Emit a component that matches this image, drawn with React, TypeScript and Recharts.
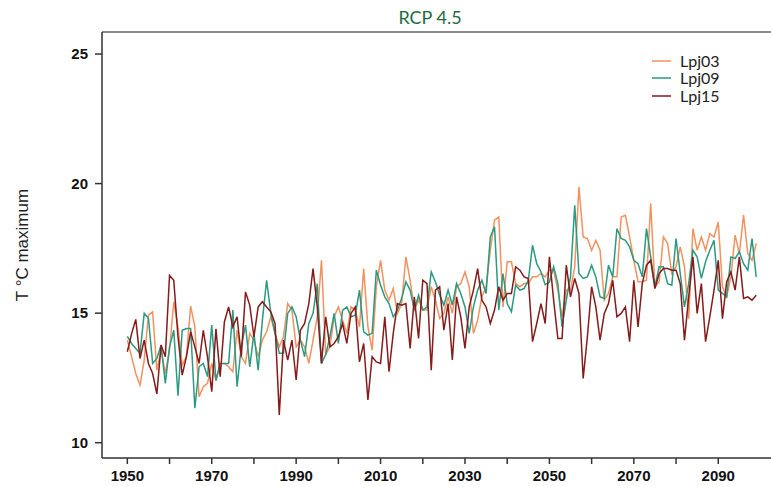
import React from 'react';
import { LineChart, Line, XAxis, YAxis, ReferenceLine, Legend } from 'recharts';

// Annual maximum temperature, 1950-2099
const years: number[] = Array.from({ length: 150 }, (_, i) => 1950 + i);

const lpj03: number[] = [
  13.96, 13.32, 12.67, 12.22, 13.19, 14.92, 15.05, 12.8, 13.57, 12.67,
  13.57, 15.44, 14.47, 12.99, 13.32, 15.27, 14.47, 11.78, 12.16, 12.29,
  13.06, 12.4, 13.06, 13.06, 12.93, 12.74, 14.34, 13.32, 13.06, 14.22,
  13.96, 13.32, 13.96, 14.28, 14.86, 14.22, 13.7, 14.09, 15.37, 15.12,
  13.7, 13.96, 13.7, 13.06, 13.96, 14.86, 17.04, 13.4, 13.7, 14.86,
  15.24, 14.73, 14.22, 15.24, 15.12, 14.47, 16.72, 14.47, 13.57, 16.02,
  17.04, 15.89, 15.5, 15.95, 14.99, 15.37, 17.17, 16.27, 15.12, 15.5,
  15.12, 15.12, 16.02, 15.5, 14.8, 14.99, 15.63, 14.99, 16.02, 16.14,
  16.59, 16.02, 14.22, 14.73, 15.63, 16.02, 17.43, 18.59, 18.71, 15.24,
  16.98, 16.98, 16.14, 16.02, 16.14, 16.14, 16.4, 16.4, 16.53, 16.4,
  16.66, 16.66, 15.89, 14.86, 15.89, 15.89, 16.79, 19.87, 17.94, 17.88,
  17.43, 17.81, 17.43, 15.5, 15.76, 16.4, 16.4, 18.71, 18.78, 17.94,
  17.04, 16.21, 16.21, 16.27, 19.23, 16.02, 16.21, 17.94, 17.69, 16.53,
  16.79, 17.56, 16.79, 14.79, 18.26, 17.43, 17.94, 17.43, 18.07, 17.94,
  18.52, 16.02, 15.63, 16.4, 18.01, 17.3, 18.78, 17.3, 17.04, 17.69,
];

const lpj09: number[] = [
  14.1, 13.83, 13.64, 13.45, 14.99, 14.8, 13.06, 13.25, 13.77, 12.29,
  13.7, 14.34, 11.81, 14.34, 14.41, 14.41, 11.33, 12.93, 13.06, 12.55,
  14.54, 12.4, 13.06, 13.06, 13.06, 15.12, 12.16, 13.7, 14.54, 12.93,
  14.22, 12.8, 14.73, 16.27, 14.99, 14.22, 13.45, 13.45, 14.99, 15.24,
  14.86, 13.96, 13.32, 14.6, 14.99, 16.14, 13.06, 13.4, 14.09, 14.99,
  13.83, 15.12, 15.24, 14.86, 14.92, 15.89, 14.28, 14.15, 14.22, 16.66,
  16.08, 15.63, 15.37, 14.86, 15.12, 15.57, 16.21, 15.89, 15.12, 15.69,
  15.12, 15.24, 16.59, 16.2, 15.7, 15.31, 15.89, 15.31, 16.14, 15.76,
  15.24, 14.22, 15.24, 15.89, 16.27, 15.76, 17.94, 18.33, 15.12, 16.53,
  15.37, 15.05, 16.08, 15.89, 15.95, 16.27, 17.62, 16.91, 16.6, 16.1,
  16.2, 16.79, 16.14, 14.47, 15.5, 16.4, 19.16, 16.53, 16.34, 16.4,
  16.85, 16.4, 15.63, 15.57, 16.85, 16.4, 18.26, 17.88, 17.81, 17.56,
  17.04, 16.91, 16.4, 18.26, 17.17, 16.02, 16.79, 16.79, 16.14, 16.08,
  17.88, 16.53, 15.24, 16.14, 17.43, 17.17, 16.34, 16.98, 17.43, 17.81,
  15.89, 15.76, 15.63, 17.17, 17.11, 17.36, 16.91, 16.66, 17.88, 16.4,
];

const lpj15: number[] = [
  13.51, 14.2, 14.76, 13.25, 13.96, 13.06, 12.67, 11.88, 13.77, 13.32,
  16.46, 16.27, 14.09, 12.61, 13.32, 14.28, 13.7, 13.06, 14.34, 13.3,
  11.97, 14.4, 12.55, 14.67, 15.24, 14.47, 14.86, 13.32, 15.82, 15.31,
  14.09, 15.24, 15.44, 15.24, 15.05, 14.6, 11.07, 13.96, 13.19, 13.96,
  12.42, 14.34, 14.6, 15.37, 16.72, 15.24, 13.06, 14.86, 13.7, 13.83,
  14.09, 14.6, 13.83, 14.99, 15.24, 13.12, 13.83, 11.65, 13.32, 13.12,
  13.06, 14.86, 12.74, 14.22, 15.37, 15.31, 15.37, 13.64, 15.63, 14.02,
  16.27, 16.14, 12.8, 15.89, 16.02, 14.34, 15.37, 13.19, 15.63, 14.86,
  13.64, 15.24, 15.89, 16.72, 15.5, 15.24, 14.6, 15.12, 16.02, 15.5,
  15.76, 15.76, 16.79, 16.66, 16.4, 16.34, 13.9, 14.6, 15.37, 14.6,
  17.17, 15.5, 14.02, 14.02, 16.85, 15.63, 16.34, 15.76, 12.48, 14.09,
  16.02, 15.24, 13.96, 14.99, 15.37, 16.27, 14.86, 14.99, 15.24, 13.9,
  16.27, 14.47, 16.14, 16.85, 17.04, 15.95, 16.53, 16.72, 16.72, 16.66,
  16.66, 16.14, 13.96, 15.63, 17.17, 14.99, 16.14, 13.9, 14.86, 15.89,
  17.04, 14.79, 16.21, 16.59, 15.89, 17.17, 15.57, 15.63, 15.5, 15.69,
];

const xTicks = [1950, 1960, 1970, 1980, 1990, 2000, 2010, 2020, 2030, 2040, 2050, 2060, 2070, 2080, 2090];
const yTicks = [10, 15, 20, 25];

const data = years.map((year, i) => ({
  year,
  Lpj03: lpj03[i],
  Lpj09: lpj09[i],
  Lpj15: lpj15[i],
}));

const COLORS = { Lpj03: '#f2925f', Lpj09: '#2a9a80', Lpj15: '#861b1b' };

const renderLegend = (props: any) => {
  const { payload } = props;
  return (
    <div>
      {payload.map((entry: any) => (
        <div key={entry.value} style={{ display: 'flex', alignItems: 'center', height: 17.5 }}>
          <svg width={30} height={10}>
            <line x1={2} y1={5} x2={21} y2={5} stroke={entry.color} strokeWidth={1.5} />
          </svg>
          <span style={{ fontFamily: 'Lato', fontSize: 16, color: '#222', lineHeight: '16px' }}>{entry.value}</span>
        </div>
      ))}
    </div>
  );
};

const App: React.FC = () => {
  return (
    <div style={{ position: 'absolute', left: 0, top: 0, width: 771, height: 486, background: '#fff' }}>
      <div
        style={{
          position: 'absolute', left: 0, width: 860, top: 6, textAlign: 'center',
          fontFamily: 'Lato', fontSize: 18, color: '#1d6b40',
        }}
      >
        RCP 4.5
      </div>
      <svg style={{ position: 'absolute', left: 0, top: 0 }} width={60} height={486}>
        <text
          x={22} y={245} transform="rotate(-90 22 245)" textAnchor="middle" dominantBaseline="central"
          fontFamily="Liberation Sans, Arial" fontSize={17} fill="#222"
        >
          T °C maximum
        </text>
      </svg>
      <LineChart width={771} height={486} data={data} margin={{ top: 32, right: 0, bottom: 0, left: 0 }}>
        <XAxis
          dataKey="year"
          type="number"
          domain={[1944, 2102.5]}
          ticks={xTicks}
          tickFormatter={(v: number) => ((v - 1950) % 20 === 0 ? String(v) : '')}
          height={28}
          tickSize={6}
          tickMargin={6}
          stroke="#333"
          strokeWidth={1.5}
          tick={{ fill: '#111', fontFamily: 'Liberation Sans, Arial', fontWeight: 700, fontSize: 15 }}
          allowDataOverflow
        />
        <YAxis
          type="number"
          domain={[9.41, 25.85]}
          ticks={yTicks}
          width={102}
          tickSize={7}
          tickMargin={7}
          stroke="#333"
          strokeWidth={1.5}
          tick={{ fill: '#111', fontFamily: 'Liberation Sans, Arial', fontWeight: 700, fontSize: 15 }}
          allowDataOverflow
        />
        <ReferenceLine y={25.85} stroke="#8a8a8a" strokeWidth={2} ifOverflow="extendDomain" />
        <Legend
          layout="vertical"
          align="center"
          verticalAlign="middle"
          content={renderLegend}
          wrapperStyle={{ left: 650, top: 52, width: 110 }}
        />
        <Line type="linear" dataKey="Lpj03" stroke={COLORS.Lpj03} strokeWidth={1.5} dot={false} isAnimationActive={false} />
        <Line type="linear" dataKey="Lpj09" stroke={COLORS.Lpj09} strokeWidth={1.5} dot={false} isAnimationActive={false} />
        <Line type="linear" dataKey="Lpj15" stroke={COLORS.Lpj15} strokeWidth={1.5} dot={false} isAnimationActive={false} />
      </LineChart>
    </div>
  );
};

export default App;
